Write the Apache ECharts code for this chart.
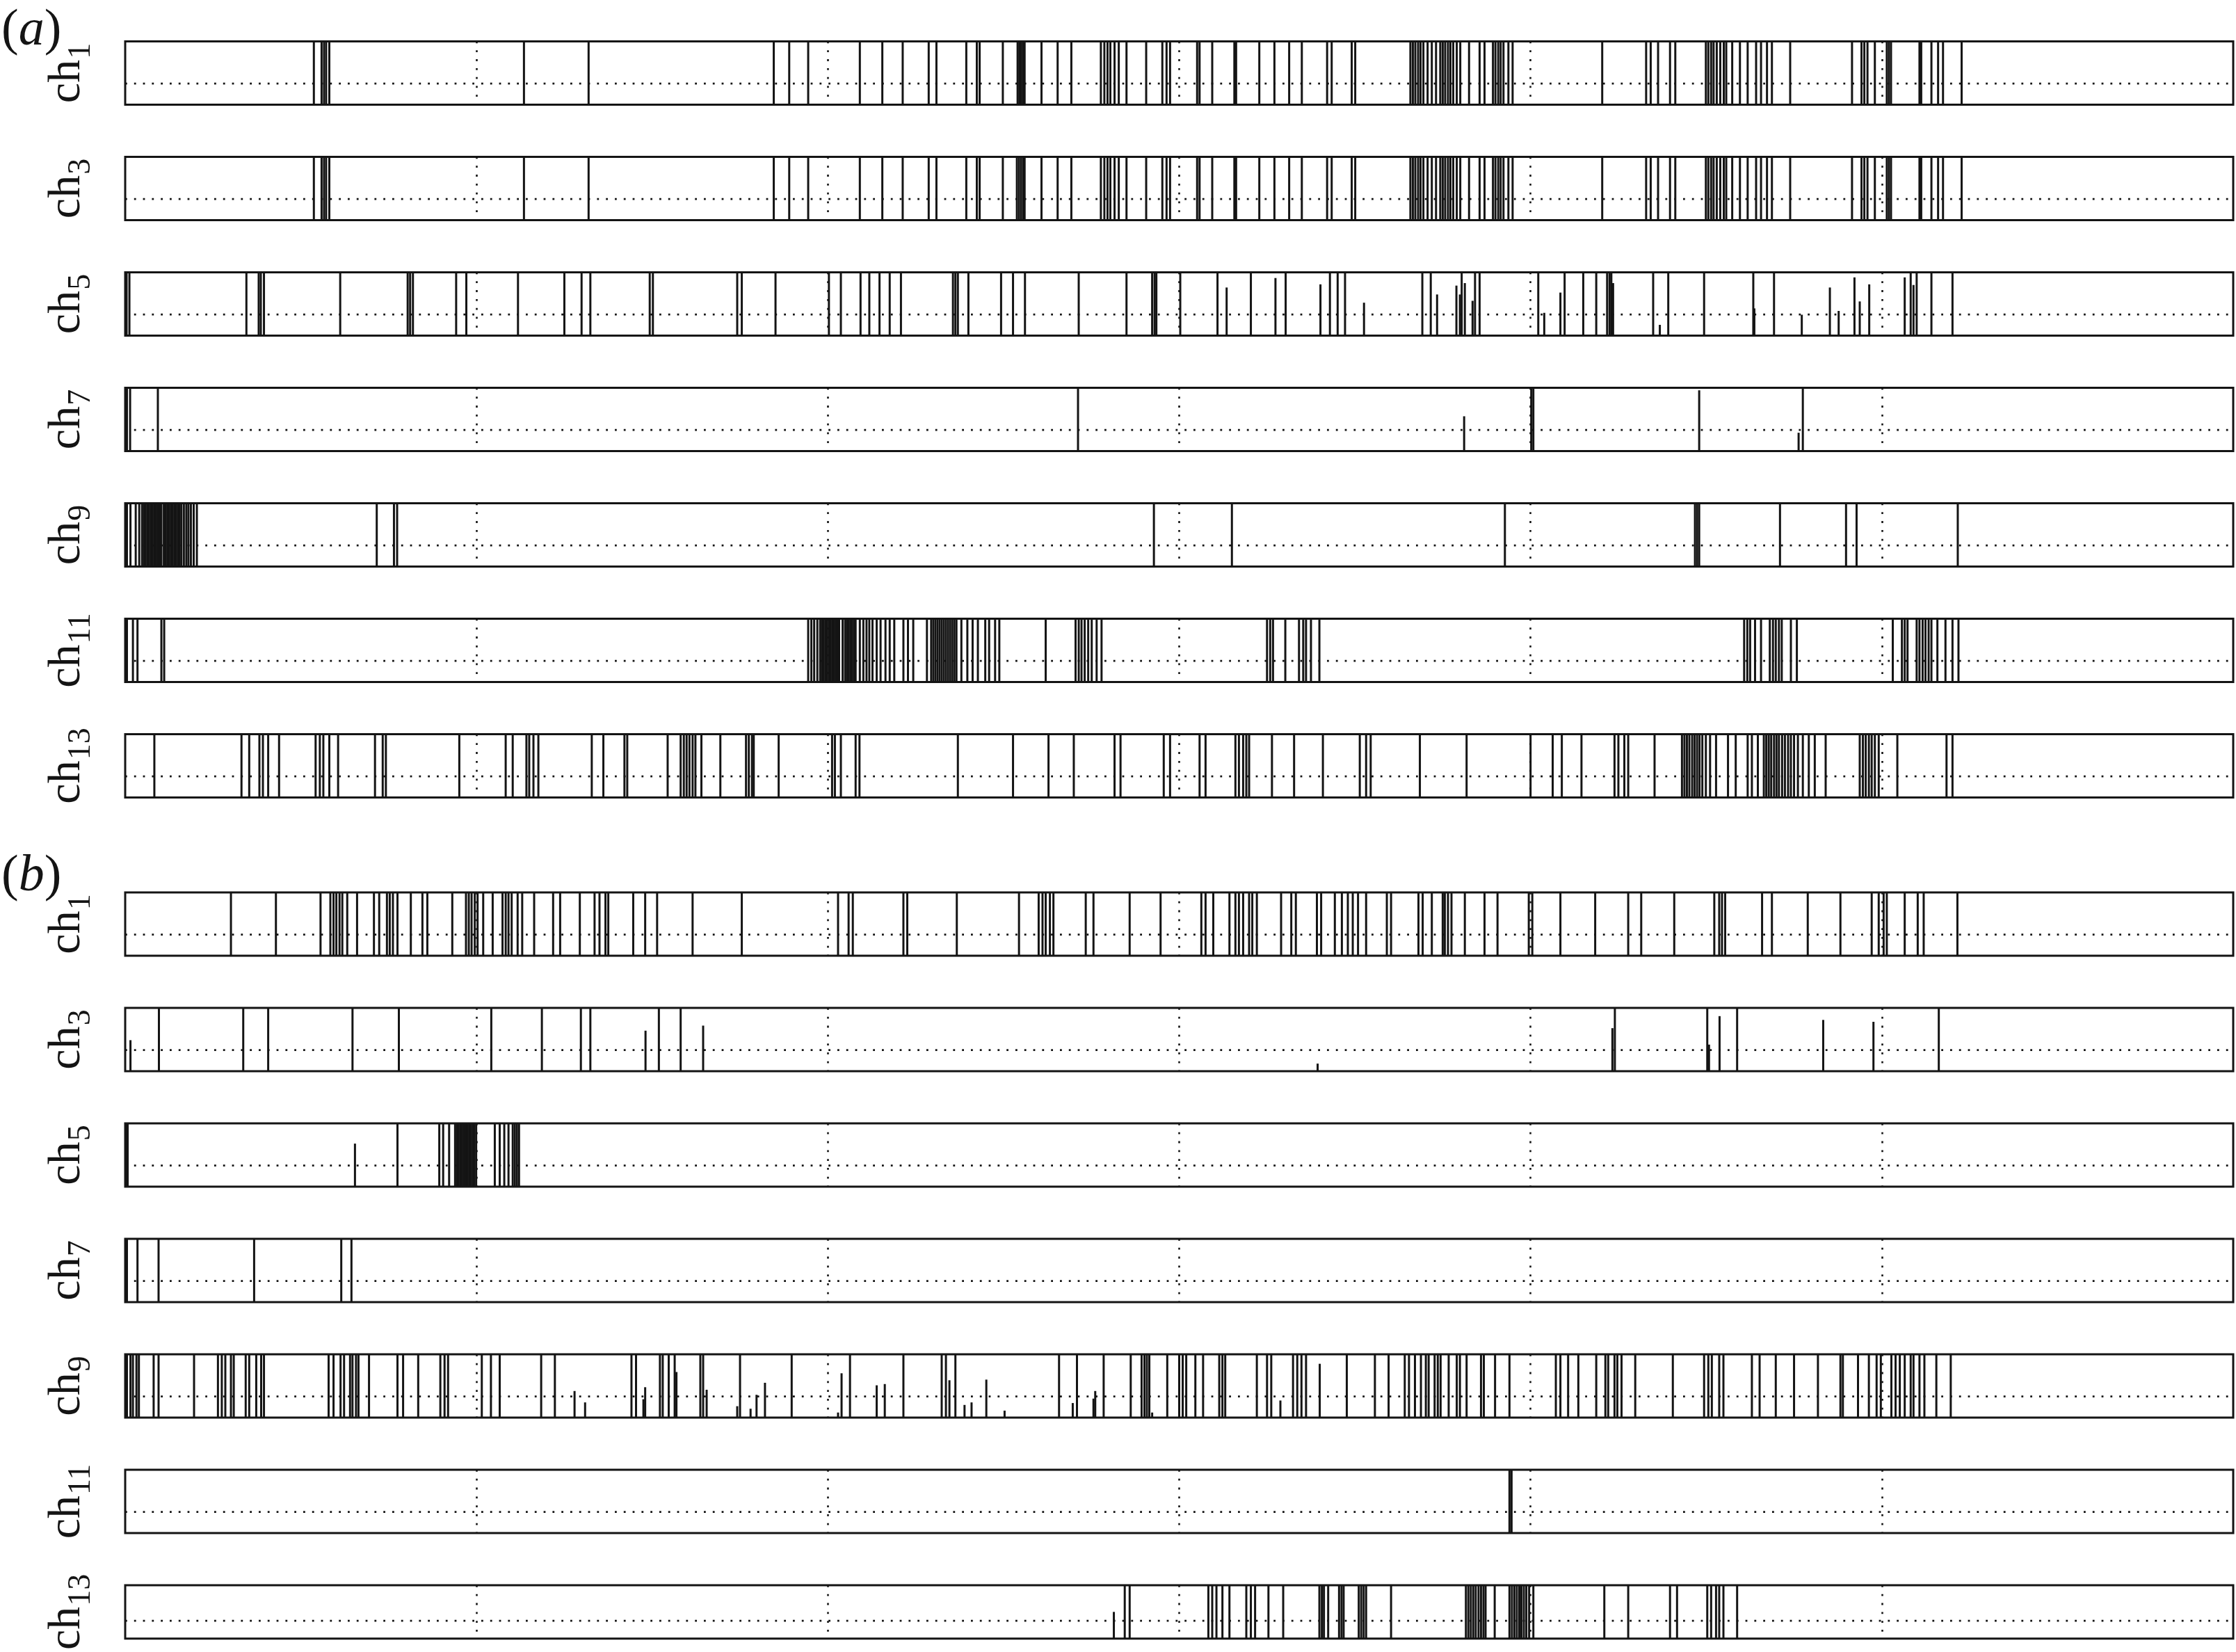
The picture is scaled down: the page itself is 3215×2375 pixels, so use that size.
<!DOCTYPE html>
<html><head><meta charset="utf-8">
<script src="https://cdn.jsdelivr.net/npm/echarts@6/dist/echarts.min.js"></script>
<style>html,body{margin:0;padding:0;background:#fff}#c{width:3215px;height:2375px}</style>
</head><body><div id="c"></div>
<script>
// ---- axis settings ----
const X_MIN = 0, X_MAX = 6, X_INTERVAL = 1;
const REF_LEVEL = 1 / 3;           // dotted horizontal reference line
const GROUP_LABELS = ['a', 'b'];
const CHANNELS = ['1', '3', '5', '7', '9', '11', '13'];

// ---- (a) full-height spike positions ----
const A_CH1 = [0.537,0.559,0.566,0.572,0.581,1.135,1.319,1.846,1.890,1.944,2.091,2.155,2.213,2.287,2.309,2.394,2.424,2.432,2.498,2.540,2.545,2.550,2.555,2.560,2.608,2.654,2.693,2.777,2.787,2.796,2.804,2.816,2.828,2.850,2.906,2.952,2.964,2.974,3.051,3.058,3.094,3.157,3.162,3.228,3.271,3.313,3.349,3.421,3.434,3.491,3.501,3.658,3.665,3.672,3.680,3.687,3.695,3.707,3.719,3.731,3.743,3.750,3.757,3.765,3.772,3.780,3.790,3.800,3.825,3.855,3.869,3.893,3.900,3.908,3.915,3.923,3.937,3.949,4.204,4.329,4.342,4.363,4.397,4.412,4.499,4.506,4.514,4.521,4.530,4.540,4.550,4.557,4.574,4.596,4.618,4.642,4.656,4.673,4.687,4.739,4.915,4.942,4.950,4.959,4.980,5.014,5.020,5.026,5.107,5.112,5.141,5.160,5.174,5.227];
const A_CH3 = [0.537,0.559,0.566,0.572,0.581,1.135,1.319,1.846,1.890,1.944,2.091,2.155,2.213,2.287,2.309,2.394,2.424,2.432,2.498,2.538,2.544,2.550,2.556,2.560,2.608,2.654,2.693,2.777,2.787,2.796,2.804,2.816,2.828,2.850,2.906,2.952,2.964,2.974,3.051,3.058,3.094,3.157,3.162,3.228,3.271,3.313,3.349,3.421,3.434,3.491,3.501,3.658,3.665,3.672,3.680,3.687,3.695,3.707,3.719,3.731,3.743,3.750,3.757,3.765,3.772,3.780,3.790,3.800,3.825,3.855,3.869,3.893,3.900,3.908,3.915,3.923,3.937,3.949,4.204,4.329,4.342,4.363,4.397,4.412,4.499,4.506,4.514,4.521,4.530,4.540,4.550,4.557,4.574,4.596,4.618,4.642,4.656,4.673,4.687,4.739,4.915,4.942,4.950,4.959,4.980,5.014,5.020,5.026,5.107,5.112,5.141,5.160,5.174,5.227];
const A_CH5 = [0.004,0.012,0.345,0.380,0.386,0.395,0.612,0.804,0.811,0.819,0.942,0.971,1.118,1.250,1.299,1.324,1.493,1.502,1.742,1.755,1.851,2.003,2.037,2.093,2.118,2.147,2.176,2.208,2.356,2.363,2.370,2.400,2.493,2.527,2.561,2.714,2.850,2.923,2.930,2.935,3.003,3.109,3.204,3.303,3.429,3.451,3.472,3.692,3.716,3.804,3.842,3.855,4.022,4.097,4.150,4.187,4.218,4.225,4.230,4.349,4.392,4.494,4.634,4.693,5.082,5.099,5.141,5.201];
const A_CH5_PART = [[3.135,0.76],[3.274,0.91],[3.402,0.81],[3.526,0.52],[3.734,0.65],[3.789,0.79],[3.799,0.65],[3.813,0.83],[3.835,0.55],[4.039,0.36],[4.085,0.68],[4.235,0.83],[4.368,0.17],[4.637,0.43],[4.772,0.33],[4.852,0.76],[4.877,0.39],[4.922,0.92],[4.937,0.54],[4.964,0.81],[5.065,0.92],[5.090,0.80]];
const A_CH7 = [0.005,0.014,0.093,2.712,4.002,4.008,4.775];
const A_CH7_PART = [[3.811,0.55],[4.480,0.96],[4.763,0.29]];
const A_CH9 = [0.005,0.015,0.030,0.040,0.048,0.053,0.058,0.063,0.068,0.073,0.078,0.083,0.088,0.093,0.098,0.103,0.110,0.115,0.120,0.125,0.130,0.135,0.140,0.145,0.150,0.155,0.160,0.167,0.174,0.180,0.187,0.195,0.204,0.716,0.765,0.774,2.928,3.150,3.927,4.468,4.474,4.480,4.710,4.898,4.928,5.216];
const A_CH11 = [0.005,0.022,0.035,0.103,0.111,1.944,1.953,1.961,1.970,1.978,1.983,1.988,1.993,1.998,2.003,2.008,2.013,2.018,2.023,2.028,2.032,2.042,2.049,2.054,2.059,2.064,2.069,2.074,2.079,2.091,2.101,2.110,2.118,2.127,2.139,2.150,2.164,2.176,2.189,2.215,2.228,2.243,2.282,2.294,2.300,2.306,2.312,2.318,2.324,2.330,2.336,2.342,2.348,2.354,2.360,2.366,2.380,2.397,2.412,2.427,2.448,2.459,2.476,2.488,2.620,2.705,2.714,2.722,2.731,2.741,2.751,2.765,2.779,3.250,3.259,3.267,3.302,3.341,3.353,3.361,3.375,3.399,4.608,4.617,4.625,4.639,4.656,4.681,4.690,4.698,4.707,4.715,4.741,4.758,5.031,5.057,5.065,5.073,5.099,5.107,5.116,5.124,5.133,5.141,5.158,5.181,5.201,5.218];
const A_CH13 = [0.083,0.331,0.353,0.382,0.392,0.407,0.438,0.542,0.554,0.564,0.581,0.606,0.711,0.733,0.742,0.951,1.083,1.103,1.142,1.150,1.162,1.176,1.328,1.361,1.421,1.429,1.544,1.581,1.590,1.598,1.606,1.615,1.623,1.640,1.694,1.767,1.775,1.784,1.789,1.860,2.012,2.020,2.037,2.079,2.090,2.370,2.527,2.628,2.700,2.816,2.833,2.956,2.974,3.058,3.075,3.160,3.170,3.182,3.191,3.199,3.264,3.327,3.409,3.514,3.532,3.545,3.685,3.818,4.000,4.063,4.089,4.145,4.239,4.250,4.267,4.278,4.353,4.431,4.438,4.445,4.452,4.460,4.467,4.474,4.481,4.489,4.499,4.511,4.528,4.562,4.584,4.618,4.630,4.647,4.664,4.671,4.678,4.685,4.693,4.700,4.707,4.716,4.724,4.733,4.741,4.750,4.761,4.775,4.792,4.809,4.840,4.937,4.946,4.954,4.963,4.971,4.980,4.991,5.044,5.184,5.201];

// ---- (b) ----
const B_CH1 = [0.301,0.429,0.556,0.584,0.593,0.601,0.610,0.618,0.632,0.660,0.708,0.723,0.745,0.753,0.762,0.775,0.813,0.846,0.860,0.931,0.970,0.978,0.986,0.995,1.003,1.019,1.046,1.074,1.083,1.091,1.100,1.117,1.130,1.164,1.218,1.238,1.294,1.336,1.350,1.367,1.375,1.446,1.480,1.514,1.615,1.755,2.029,2.059,2.071,2.215,2.226,2.367,2.544,2.600,2.611,2.620,2.632,2.642,2.734,2.756,2.859,2.947,3.063,3.075,3.097,3.143,3.160,3.170,3.182,3.199,3.208,3.221,3.290,3.319,3.332,3.392,3.404,3.443,3.463,3.480,3.494,3.509,3.532,3.591,3.603,3.681,3.693,3.719,3.750,3.756,3.765,3.775,3.813,3.869,3.906,3.995,4.005,4.085,4.184,4.278,4.315,4.409,4.523,4.537,4.545,4.554,4.659,4.687,4.789,4.882,4.971,4.991,5.005,5.014,5.065,5.102,5.119,5.215];
const B_CH3 = [0.096,0.336,0.407,0.647,0.779,1.042,1.186,1.297,1.324,1.519,1.581,4.240,4.503,4.588,5.162];
const B_CH3_PART = [[0.015,0.49],[1.481,0.64],[1.645,0.72],[3.394,0.12],[4.233,0.68],[4.508,0.42],[4.538,0.87],[4.833,0.81],[4.976,0.78]];
const B_CH5 = [0.003,0.007,0.775,0.894,0.905,0.922,0.939,0.944,0.949,0.954,0.959,0.964,0.969,0.974,0.979,0.984,0.989,0.994,0.999,1.052,1.066,1.079,1.091,1.103,1.109,1.115,1.121];
const B_CH5_PART = [[0.654,0.68]];
const B_CH7 = [0.005,0.035,0.095,0.367,0.615,0.644];
const B_CH9 = [0.005,0.015,0.022,0.032,0.039,0.081,0.095,0.196,0.264,0.275,0.285,0.301,0.309,0.343,0.353,0.373,0.387,0.395,0.579,0.593,0.613,0.623,0.640,0.647,0.657,0.664,0.694,0.775,0.791,0.834,0.897,0.909,0.919,1.015,1.041,1.066,1.184,1.223,1.441,1.454,1.522,1.530,1.547,1.564,1.637,1.645,1.750,1.897,2.063,2.215,2.324,2.336,2.363,2.658,2.709,2.785,2.862,2.893,2.901,2.908,2.915,2.966,3.000,3.010,3.020,3.046,3.068,3.114,3.123,3.131,3.221,3.250,3.262,3.324,3.336,3.348,3.361,3.477,3.557,3.596,3.642,3.654,3.671,3.688,3.702,3.710,3.727,3.736,3.744,3.767,3.790,3.799,3.818,3.859,3.867,3.899,3.940,4.072,4.085,4.107,4.136,4.187,4.213,4.221,4.239,4.247,4.259,4.298,4.405,4.494,4.506,4.516,4.537,4.549,4.630,4.652,4.698,4.750,4.818,4.882,4.889,4.932,4.963,4.985,4.997,5.027,5.039,5.051,5.065,5.082,5.090,5.107,5.121,5.155,5.196];
const B_CH9_PART = [[1.279,0.42],[1.309,0.24],[1.475,0.29],[1.480,0.48],[1.569,0.72],[1.655,0.44],[1.742,0.18],[1.780,0.14],[1.797,0.36],[1.821,0.55],[2.029,0.08],[2.039,0.70],[2.139,0.51],[2.162,0.53],[2.346,0.59],[2.389,0.20],[2.409,0.24],[2.451,0.60],[2.503,0.11],[2.697,0.23],[2.756,0.30],[2.761,0.42],[2.923,0.08],[3.288,0.27],[3.400,0.85]];
const B_CH11 = [3.940,3.946];
const B_CH13 = [2.845,2.859,3.083,3.094,3.106,3.123,3.143,3.191,3.204,3.216,3.254,3.296,3.399,3.406,3.412,3.424,3.455,3.462,3.468,3.511,3.518,3.525,3.532,3.603,3.816,3.823,3.830,3.837,3.844,3.852,3.859,3.866,3.872,3.898,3.940,3.947,3.954,3.961,3.968,3.974,3.981,3.988,3.996,4.008,4.210,4.278,4.397,4.417,4.503,4.514,4.528,4.537,4.549,4.588];
const B_CH13_PART = [[2.814,0.50]];

const GROUP_A = [[A_CH1,[]],[A_CH3,[]],[A_CH5,A_CH5_PART],[A_CH7,A_CH7_PART],[A_CH9,[]],[A_CH11,[]],[A_CH13,[]]];
const GROUP_B = [[B_CH1,[]],[B_CH3,B_CH3_PART],[B_CH5,B_CH5_PART],[B_CH7,[]],[B_CH9,B_CH9_PART],[B_CH11,[]],[B_CH13,B_CH13_PART]];

// ---- layout / style ----
const INK = '#141414';
const SERIF = '"Liberation Serif","DejaVu Serif",serif';
const GRID_LEFT = 180, GRID_W = 3031, GRID_H = 91, STEP = 166;
const TOP_A = 59.5, TOP_B = 1283;
const DOT = [2.8, 10];

const grids = [], xAxes = [], yAxes = [], series = [];
[GROUP_A, GROUP_B].forEach((group, g) => {
  group.forEach((pair, k) => {
    const i = grids.length;
    const top = (g === 0 ? TOP_A : TOP_B) + STEP * k;
    grids.push({left: GRID_LEFT, top: top, width: GRID_W, height: GRID_H,
      show: true, borderColor: INK, borderWidth: 3, backgroundColor: 'transparent'});
    xAxes.push({type: 'value', gridIndex: i, min: X_MIN, max: X_MAX, interval: X_INTERVAL,
      axisLine: {show: false}, axisTick: {show: false}, axisLabel: {show: false},
      splitLine: {show: true, showMinLine: false, showMaxLine: false,
        lineStyle: {color: INK, width: 2.6, type: DOT}}});
    yAxes.push({type: 'value', gridIndex: i, min: 0, max: 1,
      axisLine: {show: false}, axisTick: {show: false}, axisLabel: {show: false},
      splitLine: {show: false},
      name: '{c|ch}{s|' + CHANNELS[k] + '}', nameLocation: 'middle', nameRotate: 90, nameGap: 54,
      nameTextStyle: {color: INK, rich: {
        c: {fontFamily: SERIF, fontSize: 66, color: INK, lineHeight: 62, verticalAlign: 'top'},
        s: {fontFamily: SERIF, fontSize: 46, color: INK, lineHeight: 46, verticalAlign: 'top', padding: [30, 0, 0, 1]}
      }}});
    // dotted reference line
    series.push({type: 'line', xAxisIndex: i, yAxisIndex: i, silent: true, symbol: 'none',
      data: [[X_MIN, REF_LEVEL], [X_MAX, REF_LEVEL]],
      lineStyle: {color: INK, width: 2.6, type: DOT}, z: 1, animation: false});
    const data = pair[0].map(x => [x, 1]).concat(pair[1]);
    series.push({type: 'custom', xAxisIndex: i, yAxisIndex: i, silent: true, animation: false, z: 3,
      data: data,
      renderItem: (params, api) => {
        const x = api.value(0), h = api.value(1);
        const p0 = api.coord([x, 0]), p1 = api.coord([x, h]);
        return {type: 'line', shape: {x1: p0[0], y1: p0[1], x2: p1[0], y2: p1[1]},
          style: {stroke: INK, lineWidth: 3}};
      }});
  });
});

const graphics = GROUP_LABELS.map((lab, g) => ({
  type: 'text', left: 2, top: (g === 0 ? 8 : 1224),
  style: {text: '{p|(}{i|' + lab + '}{p|)}', rich: {
    p: {fontFamily: SERIF, fontSize: 74, fill: INK},
    i: {fontFamily: SERIF, fontSize: 74, fontStyle: 'italic', fill: INK}
  }}
}));

const chart = echarts.init(document.getElementById('c'), null, {renderer: 'canvas'});
chart.setOption({
  animation: false,
  backgroundColor: '#fff',
  grid: grids, xAxis: xAxes, yAxis: yAxes, series: series, graphic: graphics
});
</script></body></html>
